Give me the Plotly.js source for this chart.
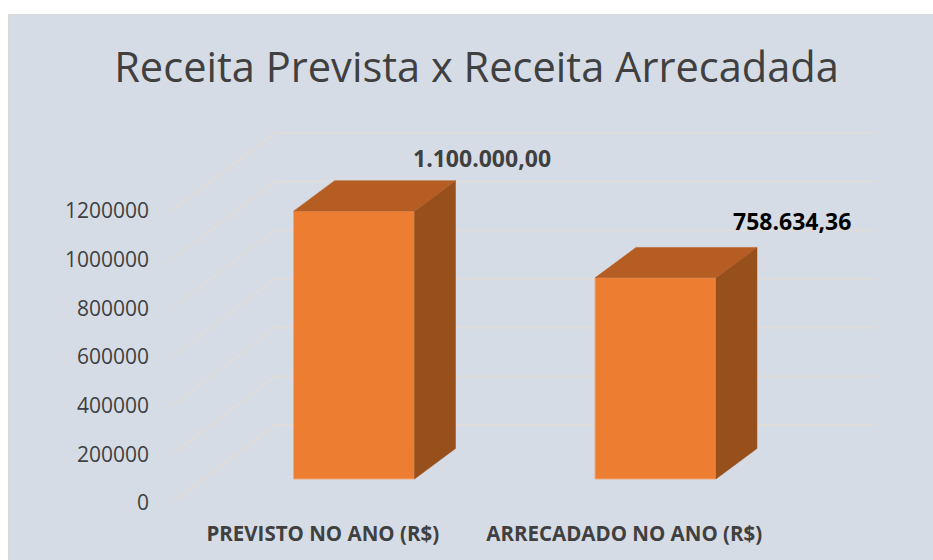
<!DOCTYPE html>
<html>
<head>
<meta charset="utf-8">
<script src="https://cdn.plot.ly/plotly-3.0.1.min.js"></script>
<style>
html,body{margin:0;padding:0;background:#fff;overflow:hidden}
#chart{position:absolute;left:9px;top:15px;width:924px;height:545px;outline:1px solid #d9d9d9}
</style>
</head>
<body>
<div id="chart"></div>
<script>
var categories = ["PREVISTO NO ANO (R$)", "ARRECADADO NO ANO (R$)"];
var barValues = [1100000, 826000];
var barLabels = ["1.100.000,00", "758.634,36"];
var yTicks = [0, 200000, 400000, 600000, 800000, 1000000, 1200000];
var barColors = {front: "#ed7d31", top: "#b55d22", side: "#974f1c"};

// oblique projection of the 3D box, in axis units
var wallDx = 0.342, wallDy = 320500;
var barShift = 0.1037, barWidth = 0.401, barBase = 98600;
var depthDx = 0.136, depthDy = 125000;
var xMin = -0.5, xMax = 1.835, yMax = 1540000;
var xCenter = categories.map(function (c, i) { return i + barShift; });

var shapes = [];
yTicks.forEach(function (v) {
  shapes.push({type: "path", xref: "x", yref: "y", layer: "below",
    path: "M" + xMin + "," + v + " L" + (xMin + wallDx) + "," + (v + wallDy) + " L" + xMax + "," + (v + wallDy),
    line: {color: "#dfdcda", width: 2}});
});

var traces = [{
  type: "bar", x: xCenter, y: barValues, base: barBase, width: barWidth,
  marker: {color: barColors.front, line: {color: "#f0a878", width: 1}},
  hoverinfo: "skip", showlegend: false
}];
xCenter.forEach(function (c, i) {
  var l = c - barWidth / 2, r = c + barWidth / 2, t = barBase + barValues[i];
  traces.push({type: "scatter", mode: "lines", fill: "toself", fillcolor: barColors.side,
    x: [r, r + depthDx, r + depthDx, r, r], y: [barBase, barBase + depthDy, t + depthDy, t, barBase],
    line: {color: barColors.side, width: 0.5}, hoverinfo: "skip", showlegend: false});
  traces.push({type: "scatter", mode: "lines", fill: "toself", fillcolor: barColors.top,
    x: [l, r, r + depthDx, l + depthDx, l], y: [t, t, t + depthDy, t + depthDy, t],
    line: {color: barColors.top, width: 0.5}, hoverinfo: "skip", showlegend: false});
});

var layout = {
  width: 924, height: 545,
  margin: {l: 163, r: 57, t: 113, b: 57, pad: 0},
  paper_bgcolor: "#d6dce5", plot_bgcolor: "rgba(0,0,0,0)",
  showlegend: false, barmode: "overlay",
  title: {text: "Receita Prevista x Receita Arrecadada",
    x: 0.506, xanchor: "center", xref: "container", y: 0.903, yanchor: "middle", yref: "container",
    font: {family: "Open Sans, sans-serif", size: 41.6, color: "#404040"}},
  font: {family: "Open Sans, sans-serif"},
  xaxis: {range: [xMin, xMax], tickmode: "array", tickvals: [0, 1], ticktext: categories,
    showgrid: false, zeroline: false, showline: false, ticks: "", ticklabelstandoff: 16,
    tickangle: 0, fixedrange: true,
    tickfont: {family: "Open Sans, sans-serif", size: 20.5, color: "#404040", weight: 700}},
  yaxis: {range: [0, yMax], tickmode: "array", tickvals: yTicks, ticktext: yTicks.map(String),
    showgrid: false, zeroline: false, showline: false, ticks: "", ticklabelstandoff: 22, ticklabelshift: -1.5, fixedrange: true,
    tickfont: {family: "Open Sans, sans-serif", size: 21, color: "#404040"}},
  shapes: shapes,
  annotations: [
    {text: "<b>" + barLabels[0] + "</b>", x: 0.528, y: 1417800, xref: "x", yref: "y", showarrow: false,
     font: {family: "Open Sans, sans-serif", size: 23, color: "#404040"}},
    {text: "<b>" + barLabels[1] + "</b>", x: 1.556, y: 1158900, xref: "x", yref: "y", showarrow: false,
     font: {family: "Open Sans, sans-serif", size: 23, color: "#000000"}}
  ]
};
Plotly.newPlot("chart", traces, layout, {displayModeBar: false, staticPlot: true});
</script>
</body>
</html>
